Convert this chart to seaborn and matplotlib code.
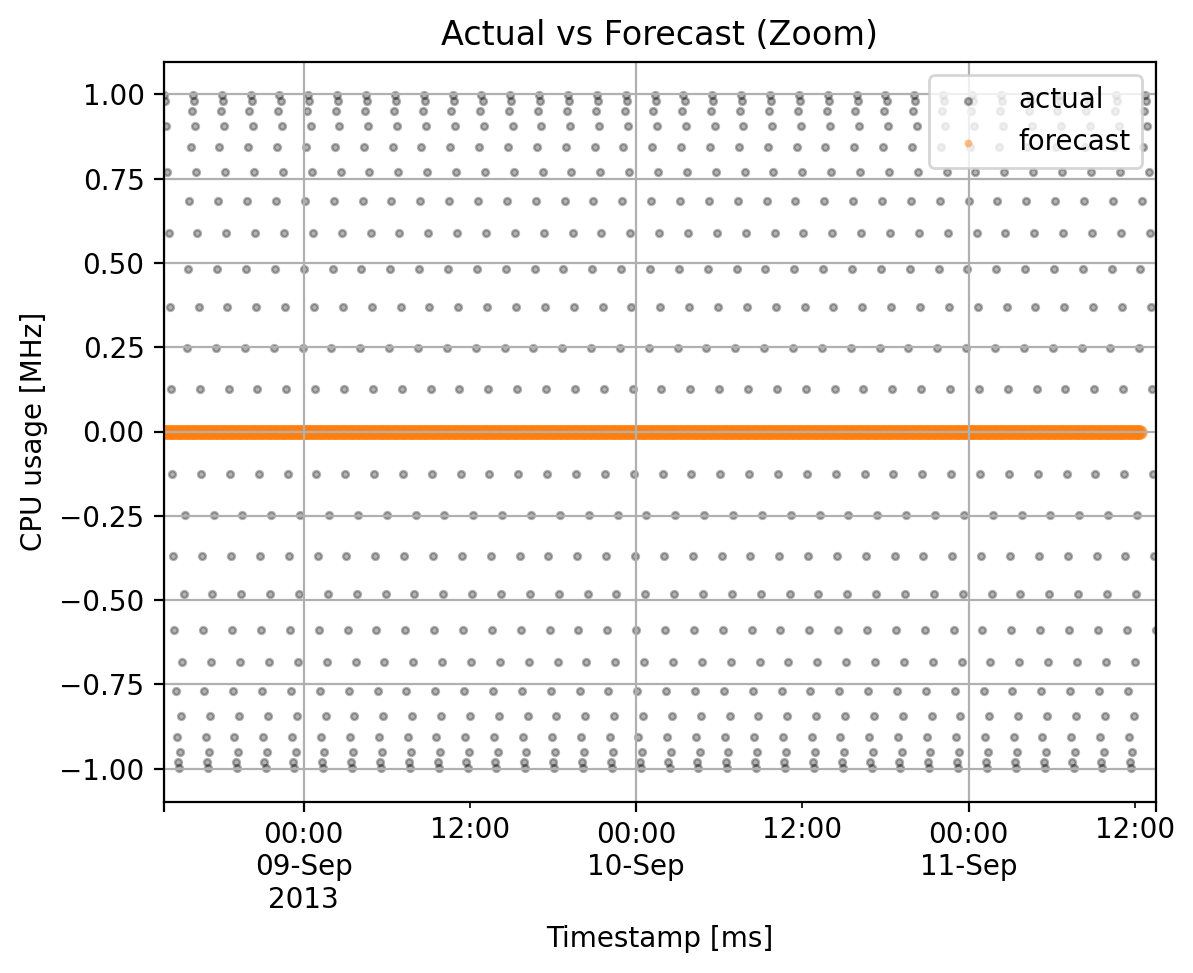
"""
Actual vs forecast CPU usage, zoomed into a few days.
"""

import numpy as np
import pandas as pd
import seaborn as sns
import matplotlib.pyplot as plt
from matplotlib.ticker import FixedLocator, FixedFormatter
import matplotlib.dates as mdates

# one 125 min cycle of the actual series (5 min samples)
actual_cycle = [0.998, 0.982, 0.905, 0.771, 0.588, 0.368, 0.125, -0.125,
                -0.368, -0.588, -0.771, -0.905, -0.982, -0.998, -0.951,
                -0.844, -0.685, -0.482, -0.249, 0.0, 0.249, 0.482, 0.685,
                0.844, 0.951]
actual_start = '2013-09-08 13:55'
actual_end = '2013-09-11 13:30'

# forecast sits flat on zero
forecast_level = 0.0
forecast_start = '2013-09-08 13:55'
forecast_end = '2013-09-11 12:25'

sample_step = '5min'

major_ticks = ['2013-09-09 00:00', '2013-09-10 00:00', '2013-09-11 00:00']
major_labels = ['00:00\n09-Sep\n2013', '00:00\n10-Sep', '00:00\n11-Sep']
minor_ticks = ['2013-09-09 12:00', '2013-09-10 12:00', '2013-09-11 12:00']
minor_labels = ['12:00', '12:00', '12:00']
y_ticks = [-1.0, -0.75, -0.5, -0.25, 0.0, 0.25, 0.5, 0.75, 1.0]

actual_ts = pd.date_range(actual_start, actual_end, freq=sample_step)
actual = pd.DataFrame({'timestamp': actual_ts,
                       'cpu': np.resize(actual_cycle, len(actual_ts))})
forecast_ts = pd.date_range(forecast_start, forecast_end, freq=sample_step)
forecast = pd.DataFrame({'timestamp': forecast_ts,
                         'cpu': np.full(len(forecast_ts), forecast_level)})

fig = plt.figure(figsize=(1193 / 200, 973 / 200), dpi=200)
ax = fig.add_axes([164 / 1193, 1 - 801.5 / 973, (1155.5 - 164) / 1193, (801.5 - 61.5) / 973])

sns.scatterplot(data=actual, x='timestamp', y='cpu', ax=ax, color='k',
                edgecolor='k', alpha=0.3, s=6, linewidth=0.9, label='actual')
sns.scatterplot(data=forecast, x='timestamp', y='cpu', ax=ax, color='#ff7f0e',
                edgecolor='#ff7f0e', alpha=0.5, s=28, linewidth=0, label='forecast')

# pandas-style period axis: major ticks on the edges and at midnight, minor at noon
x0 = mdates.date2num(pd.Timestamp(actual_start))
x1 = mdates.date2num(pd.Timestamp(actual_end))
ax.set_xlim(x0, x1)
major_pos = [x0] + [mdates.date2num(pd.Timestamp(t)) for t in major_ticks] + [x1]
ax.xaxis.set_major_locator(FixedLocator(major_pos))
ax.xaxis.set_major_formatter(FixedFormatter([''] + major_labels + ['']))
ax.xaxis.set_minor_locator(FixedLocator([mdates.date2num(pd.Timestamp(t)) for t in minor_ticks]))
ax.xaxis.set_minor_formatter(FixedFormatter(minor_labels))
ax.set_yticks(y_ticks)

ax.grid(True, which='major')
ax.set_title('Actual vs Forecast (Zoom)')
ax.set_xlabel('Timestamp [ms]')
ax.set_ylabel('CPU usage [MHz]')
leg = ax.legend(loc='upper right')
leg.legend_handles[1].set_sizes([8])

fig.savefig('out.png', dpi=200)
